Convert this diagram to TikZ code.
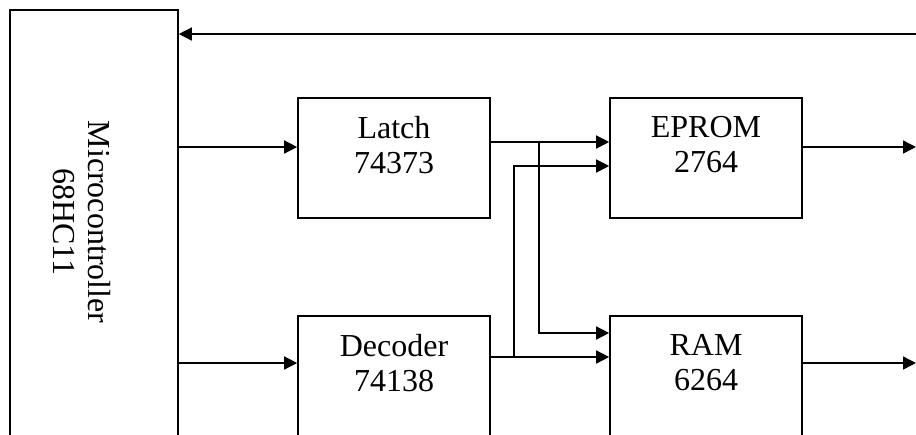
\documentclass[tikz,border=0pt]{standalone}
\usepackage{fontspec}
\setmainfont{Liberation Serif}
\usepackage{tikz}
\usetikzlibrary{arrows.meta}

\tikzset{
  box/.style={draw, line width=0.8pt, inner sep=0pt},
  blocktext/.style={align=center, font=\fontsize{16}{17.5}\selectfont},
  arr/.style={line width=0.7pt, -{Triangle[length=6.5pt,width=6.5pt]}}
}

\begin{document}
\begin{tikzpicture}[x=0.5pt, y=-0.5pt, line width=0.7pt]
  \useasboundingbox (0,0) rectangle (916,434);
  \clip (0,0) rectangle (916,434);
  % blocks
  \node[box, minimum width=84pt, minimum height=225pt,
        label={[blocktext, rotate=-90, xshift=-6.5pt, yshift=-6pt]center:Microcontroller\\68HC11}]
        (micro) at (94,235) {};
  \node[box, minimum width=96pt, minimum height=60pt,
        label={[blocktext, yshift=6.5pt]center:Latch\\74373}] (latch) at (394,158) {};
  \node[box, minimum width=96pt, minimum height=60pt,
        label={[blocktext, yshift=6.5pt]center:Decoder\\74138}] (decoder) at (394,376) {};
  \node[box, minimum width=96pt, minimum height=60pt,
        label={[blocktext, yshift=6.5pt]center:EPROM\\2764}] (eprom) at (706,158) {};
  \node[box, minimum width=96pt, minimum height=60pt,
        label={[blocktext, yshift=6.5pt]center:RAM\\6264}] (ram) at (706,376) {};
  % free ends and taps
  \coordinate (fbin) at (916,34);
  \coordinate (epout) at (916,147);
  \coordinate (ramout) at (916,363);
  \coordinate (ltap) at (539,142);
  \coordinate (dtap) at (514,357);
  % feedback into the microcontroller
  \draw[arr] (fbin) -- (micro.east |- fbin);
  % microcontroller outputs
  \draw[arr] (micro.east |- 0,147) -- (latch.west |- 0,147);
  \draw[arr] (micro.east |- 0,363) -- (decoder.west |- 0,363);
  % latch to memories
  \draw[arr] (latch.east |- ltap) -- (eprom.west |- ltap);
  \draw[arr] (ltap) |- (ram.west |- 0,333);
  % decoder to memories
  \draw[arr] (decoder.east |- dtap) -- (ram.west |- dtap);
  \draw[arr] (dtap) |- (eprom.west |- 0,166);
  % memory outputs
  \draw[arr] (eprom.east |- epout) -- (epout);
  \draw[arr] (ram.east |- ramout) -- (ramout);
\end{tikzpicture}
\end{document}
